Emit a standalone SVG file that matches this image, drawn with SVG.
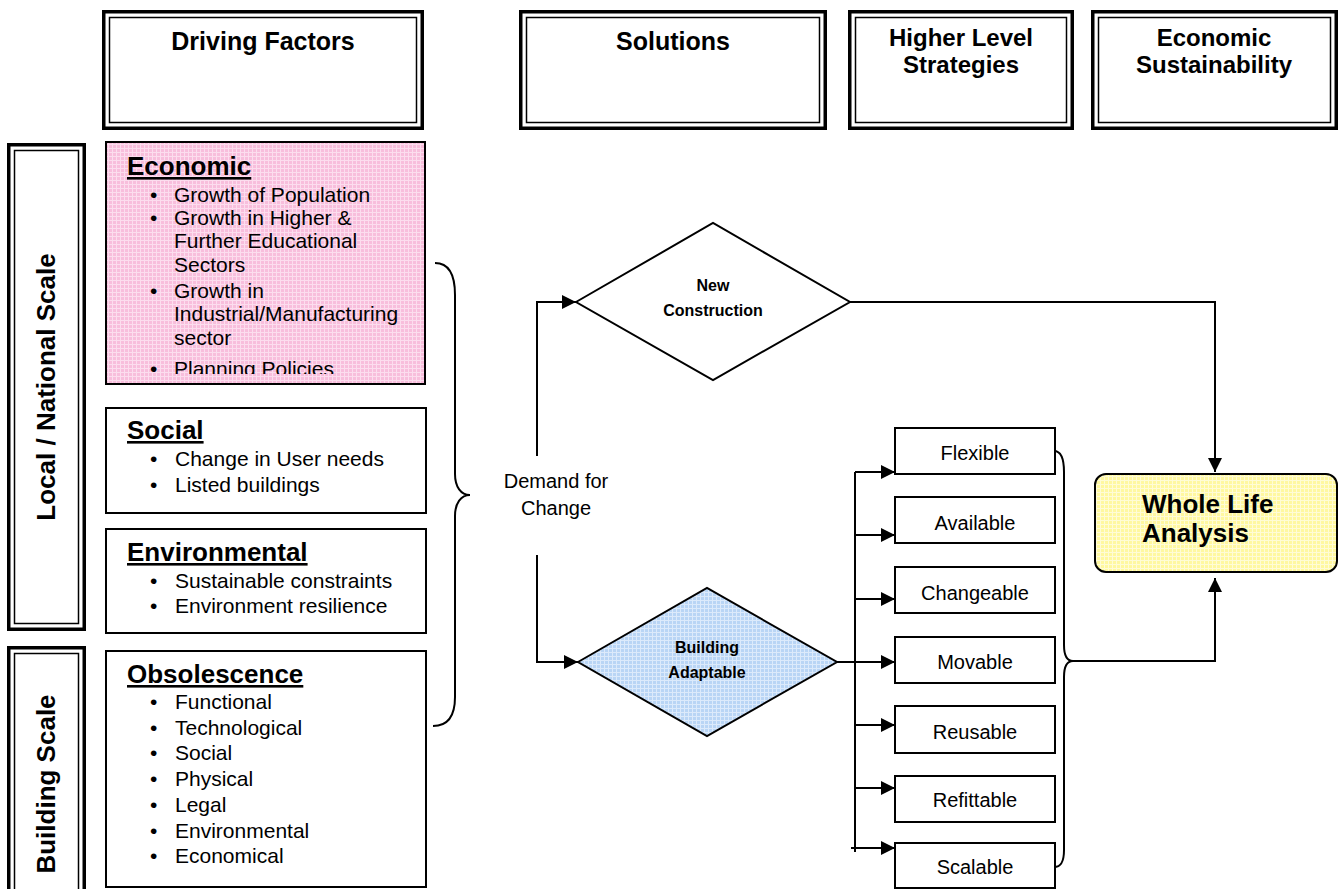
<svg xmlns="http://www.w3.org/2000/svg" width="1344" height="889" viewBox="0 0 1344 889">
<style>
text{font-family:"Liberation Sans",Arial,sans-serif;fill:#000}
.hdr{font-size:25px;font-weight:bold;text-anchor:middle}
.hdr2{font-size:24px;font-weight:bold;text-anchor:middle}
.vert{font-size:26px;font-weight:bold;text-anchor:middle}
.head{font-size:26px;font-weight:bold;text-decoration:underline}
.body{font-size:21px}
.lbl{font-size:20px;text-anchor:middle}
.dia{font-size:16px;font-weight:bold;text-anchor:middle}
.outer{fill:#fff;stroke:#000;stroke-width:3.5}
.inner{fill:none;stroke:#000;stroke-width:1.5}
.box{fill:#fff;stroke:#000;stroke-width:2}
.ln{fill:none;stroke:#000;stroke-width:2}
</style>
<defs>
<pattern id="pink" width="4" height="4" patternUnits="userSpaceOnUse"><rect width="4" height="4" fill="#F8BEDC"/><path d="M0 0.5H4M0.5 0V4" stroke="#FCDDEE" stroke-width="1"/></pattern>
<pattern id="blue" width="4" height="4" patternUnits="userSpaceOnUse"><rect width="4" height="4" fill="#B9D5F5"/><path d="M0 0.5H4M0.5 0V4" stroke="#DCEAFB" stroke-width="1"/></pattern>
<pattern id="yellow" width="4" height="4" patternUnits="userSpaceOnUse"><rect width="4" height="4" fill="#FFF8A0"/><path d="M0 0.5H4M0.5 0V4" stroke="#FFFCD6" stroke-width="1"/></pattern>
<marker id="arr" markerWidth="14" markerHeight="14" refX="14" refY="7" orient="auto" markerUnits="userSpaceOnUse"><path d="M0,0 L14,7 L0,14 Z" fill="#000"/></marker>
<clipPath id="ecoClip"><rect x="106" y="142" width="319" height="232"/></clipPath>
<clipPath id="chgClip"><rect x="895" y="567" width="160" height="44"/></clipPath>
</defs>
<rect width="1344" height="889" fill="#fff"/>

<g id="hdr-driving">
<rect class="outer" x="103.75" y="11.75" width="318.5" height="116.5"/>
<rect class="inner" x="109.5" y="17.5" width="307" height="105"/>
<text class="hdr" x="263" y="50">Driving Factors</text>
</g>
<g id="hdr-solutions">
<rect class="outer" x="520.75" y="11.75" width="304.5" height="116.5"/>
<rect class="inner" x="526.5" y="17.5" width="293" height="105"/>
<text class="hdr" x="673" y="50">Solutions</text>
</g>
<g id="hdr-higher">
<rect class="outer" x="849.75" y="11.75" width="222.5" height="116.5"/>
<rect class="inner" x="855.5" y="17.5" width="211" height="105"/>
<text class="hdr2" x="961" y="46">Higher Level</text>
<text class="hdr2" x="961" y="73">Strategies</text>
</g>
<g id="hdr-econsust">
<rect class="outer" x="1092.75" y="11.75" width="243.5" height="116.5"/>
<rect class="inner" x="1098.5" y="17.5" width="232" height="105"/>
<text class="hdr2" x="1214" y="46">Economic</text>
<text class="hdr2" x="1214" y="73">Sustainability</text>
</g>

<g id="scale-local">
<rect class="outer" x="8.75" y="144.75" width="75.5" height="484.5"/>
<rect class="inner" x="14.5" y="150.5" width="64" height="473"/>
<text class="vert" transform="translate(55,387) rotate(-90)" x="0" y="0">Local / National Scale</text>
</g>
<g id="scale-building">
<rect class="outer" x="8.75" y="647.75" width="75.5" height="260"/>
<rect class="inner" x="14.5" y="653.5" width="64" height="250"/>
<text class="vert" transform="translate(55,784) rotate(-90)" x="0" y="0">Building Scale</text>
</g>

<g id="economic">
<rect x="106" y="142" width="319" height="242" fill="url(#pink)" stroke="#000" stroke-width="2"/>
<g clip-path="url(#ecoClip)">
<text class="head" x="127" y="175">Economic</text>
<text class="body" x="150" y="202">•</text><text class="body" x="174" y="202">Growth of Population</text>
<text class="body" x="150" y="225">•</text><text class="body" x="174" y="225">Growth in Higher &amp;</text>
<text class="body" x="174" y="248">Further Educational</text>
<text class="body" x="174" y="272">Sectors</text>
<text class="body" x="150" y="298">•</text><text class="body" x="174" y="298">Growth in</text>
<text class="body" x="174" y="321">Industrial/Manufacturing</text>
<text class="body" x="174" y="345">sector</text>
<text class="body" x="150" y="376">•</text><text class="body" x="174" y="376">Planning Policies</text>
</g>
</g>

<g id="social">
<rect class="box" x="106" y="408" width="320" height="105"/>
<text class="head" x="127" y="439">Social</text>
<text class="body" x="150" y="466">•</text><text class="body" x="175" y="466">Change in User needs</text>
<text class="body" x="150" y="492">•</text><text class="body" x="175" y="492">Listed buildings</text>
</g>

<g id="environmental">
<rect class="box" x="106" y="529" width="320" height="104"/>
<text class="head" x="127" y="561">Environmental</text>
<text class="body" x="150" y="588">•</text><text class="body" x="175" y="588">Sustainable constraints</text>
<text class="body" x="150" y="613">•</text><text class="body" x="175" y="613">Environment resilience</text>
</g>

<g id="obsolescence">
<rect class="box" x="106" y="651" width="320" height="236"/>
<text class="head" x="127" y="683">Obsolescence</text>
<text class="body" x="150" y="709">•</text><text class="body" x="175" y="709">Functional</text>
<text class="body" x="150" y="735">•</text><text class="body" x="175" y="735">Technological</text>
<text class="body" x="150" y="760">•</text><text class="body" x="175" y="760">Social</text>
<text class="body" x="150" y="786">•</text><text class="body" x="175" y="786">Physical</text>
<text class="body" x="150" y="812">•</text><text class="body" x="175" y="812">Legal</text>
<text class="body" x="150" y="838">•</text><text class="body" x="175" y="838">Environmental</text>
<text class="body" x="150" y="863">•</text><text class="body" x="175" y="863">Economical</text>
</g>

<g id="demand">
<text x="556" y="488" text-anchor="middle" style="font-size:20px">Demand for</text>
<text x="556" y="515" text-anchor="middle" style="font-size:20px">Change</text>
</g>

<g id="new-construction">
<polygon points="576,302 713,223 850,302 713,380" fill="#fff" stroke="#000" stroke-width="2"/>
<text class="dia" x="713" y="291">New</text>
<text class="dia" x="713" y="316">Construction</text>
</g>

<g id="building-adaptable">
<polygon points="578,662 707,588 837,662 707,736" fill="url(#blue)" stroke="#000" stroke-width="2"/>
<text class="dia" x="707" y="653">Building</text>
<text class="dia" x="707" y="678">Adaptable</text>
</g>

<g id="flexible"><rect class="box" x="895" y="428" width="160" height="46"/><text class="lbl" x="975" y="460">Flexible</text></g>
<g id="available"><rect class="box" x="895" y="497" width="160" height="46"/><text class="lbl" x="975" y="530">Available</text></g>
<g id="changeable"><rect class="box" x="895" y="567" width="160" height="46"/><text class="lbl" x="975" y="600" clip-path="url(#chgClip)">Changeable</text></g>
<g id="movable"><rect class="box" x="895" y="637" width="160" height="46"/><text class="lbl" x="975" y="669">Movable</text></g>
<g id="reusable"><rect class="box" x="895" y="706" width="160" height="47"/><text class="lbl" x="975" y="739">Reusable</text></g>
<g id="refittable"><rect class="box" x="895" y="776" width="160" height="46"/><text class="lbl" x="975" y="807">Refittable</text></g>
<g id="scalable"><rect class="box" x="895" y="843" width="160" height="45"/><text class="lbl" x="975" y="874">Scalable</text></g>

<g id="whole-life">
<rect x="1095" y="474" width="242" height="98" rx="11" fill="url(#yellow)" stroke="#000" stroke-width="2"/>
<text x="1142" y="513" style="font-size:26px;font-weight:bold">Whole Life</text>
<text x="1142" y="542" style="font-size:26px;font-weight:bold">Analysis</text>
</g>

<g id="connectors">
<path class="ln" d="M435,263 C449,263 455,275 455,295 L455,474 C455,487 461,495 470,495 C461,495 455,503 455,516 L455,697 C455,716 448,726 433,726"/>
<path class="ln" d="M537,456 L537,302 L576,302" marker-end="url(#arr)"/>
<path class="ln" d="M537,555 L537,662 L578,662" marker-end="url(#arr)"/>
<path class="ln" d="M850,302 L1215,302 L1215,472"/>
<path d="M1208,458 L1215,472 L1222,458 Z" fill="#000"/>
<path class="ln" d="M837,662 L895,662" marker-end="url(#arr)"/>
<path class="ln" d="M855,472 L855,852"/>
<path class="ln" d="M855,472 L895,472" marker-end="url(#arr)"/>
<path class="ln" d="M855,535 L895,535" marker-end="url(#arr)"/>
<path class="ln" d="M855,599 L895,599" marker-end="url(#arr)"/>
<path class="ln" d="M855,725 L895,725" marker-end="url(#arr)"/>
<path class="ln" d="M855,788 L895,788" marker-end="url(#arr)"/>
<path class="ln" d="M851,848 L895,848" marker-end="url(#arr)"/>
<path class="ln" d="M1054,451 C1061,451 1064,459 1064,472 L1064,645 C1064,655 1067,661 1073,661 C1067,661 1064,667 1064,677 L1064,850 C1064,862 1061,867 1054,867"/>
<path class="ln" d="M1073,661 L1215,661 L1215,578"/>
<path d="M1208,592 L1215,578 L1222,592 Z" fill="#000"/>
</g>
</svg>
